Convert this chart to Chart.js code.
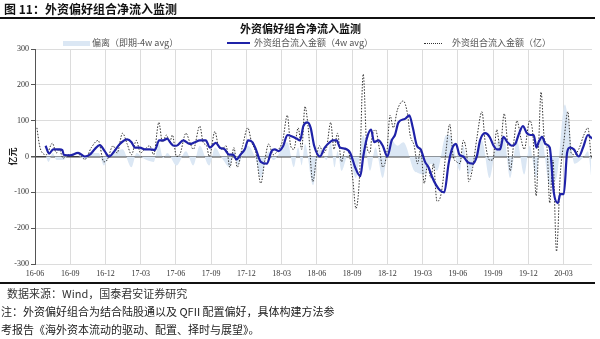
<!DOCTYPE html>
<html>
<head>
<meta charset="utf-8">
<script src="https://cdn.jsdelivr.net/npm/chart.js@4.4.0/dist/chart.umd.min.js"></script>
<style>
  body { margin: 0; width: 600px; height: 339px; background: #fff; position: relative; overflow: hidden;
         font-family: "Noto Sans CJK SC", sans-serif; color: #111; }
  .abs { position: absolute; white-space: nowrap; }
  #figTitle { left: 4px; top: 1px; font-size: 12px; font-weight: bold; line-height: 16px; }
  .rule { position: absolute; left: 0; width: 595px; height: 1.5px; background: #111; }
  #chartTitle { left: 240px; top: 20px; font-size: 11px; font-weight: bold; line-height: 16px; }
  .leg { top: 37px; font-size: 9px; line-height: 12px; color: #555; }
  .swatch { position: absolute; }
  #wrap { position: absolute; left: 0; top: 0; width: 600px; height: 339px; }
  .foot { left: 1px; font-size: 11px; line-height: 15px; color: #222; }
</style>
</head>
<body>
<div id="wrap"><canvas id="myChart" width="600" height="339"></canvas></div>

<div id="figTitle" class="abs">图 11：外资偏好组合净流入监测</div>
<div class="rule" style="top:17px"></div>
<div id="chartTitle" class="abs">外资偏好组合净流入监测</div>

<div class="swatch" style="left:63px;top:41px;width:27px;height:5px;background:#dbe7f4"></div>
<div class="abs leg" style="left:92px">偏离（即期-4w avg）</div>
<div class="swatch" style="left:227px;top:42px;width:23px;height:2px;background:#1f22a8"></div>
<div class="abs leg" style="left:254px">外资组合流入金额（4w avg）</div>
<div class="swatch" style="left:424px;top:43px;width:18px;height:0;border-top:1px dotted #333"></div>
<div class="abs leg" style="left:452px">外资组合流入金额（亿）</div>

<div class="rule" style="top:282px"></div>
<div class="abs foot" style="left:7px;top:286px;color:#333">数据来源：Wind，国泰君安证券研究</div>
<div class="abs foot" style="top:304px">注：外资偏好组合为结合陆股通以及 QFII 配置偏好，具体构建方法参</div>
<div class="abs foot" style="top:322px">考报告《海外资本流动的驱动、配置、择时与展望》。</div>

<script>
// x 轴：周序号（0 = 16-06），每 13 周一个季度刻度
const tickWeeks = [0, 13, 26, 39, 52, 65, 78, 91, 104, 117, 130, 143, 156, 169, 182, 195];
const tickLabels = ['16-06', '16-09', '16-12', '17-03', '17-06', '17-09', '17-12', '18-03',
                    '18-06', '18-09', '18-12', '19-03', '19-06', '19-09', '19-12', '20-03'];

// 外资组合流入金额（亿）— 读图取的拐点
const flowWeek = [0.7, 1.7, 2.7, 4.2, 6.4, 7.9, 8.9, 10.4, 11.8, 14, 15.3, 17.1, 18.4, 20.8, 23.3, 25.4, 26.6, 28.8, 30.3, 32.3,
  34, 35.6, 37.4, 38.9, 40.5, 42.3, 43.8, 45.7, 47, 48.5, 49.7, 50.7, 52.2, 53.4, 55.7, 57.1, 58.4, 60.8, 62, 63.3,
  64.3, 66.4, 67.6, 68.9, 70.5, 71.9, 73.4, 74.6, 76.6, 78.5, 79.9, 81.5, 83.3, 84.8, 86.2, 87.9, 89.4, 91.4, 93.1, 94.3,
  95.5, 97.1, 98.4, 99.6, 100.8, 102.5, 103.9, 104.9, 106.4, 107.6, 109.1, 110.3, 111.6, 113.1, 114.4, 115.6, 117.2, 118.4, 119.7, 121.1,
  122.4, 123.6, 124.2, 125.6, 127.1, 128.3, 129.8, 131, 132.2, 133.7, 135.9, 137.4, 138.4, 139.9, 141.1, 142.3, 143.6, 144.8, 146.1, 147,
  148.3, 149.5, 150.5, 151.7, 153, 154.3, 155.6, 156.8, 158, 159.3, 160, 161.5, 163, 164.9, 166.1, 167.7, 168.9, 170.4, 171.6, 173.1,
  174.3, 175.3, 176.8, 177.8, 179.3, 180.5, 182.5, 183.7, 184.9, 185.8, 186.7, 187.9, 188.9, 189.9, 191.1, 192.4, 193.8, 195.1, 196.6, 197.8,
  199, 200.6, 202.5, 204, 205.2];
const flowVal = [80, 30, 10, 5, 37, 10, 20, -5, 5, 3, 10, 0, -8, 25, 45, -15, -10, 30, 10, 65,
  35, 5, 45, 10, 20, 30, 5, 95, 40, 60, 40, 60, 0, 5, 65, 40, 20, 85, 40, 30,
  0, 70, 30, 20, 30, -30, 25, -30, 30, 80, 40, 10, -75, -10, 35, 5, 15, 45, 115, 30,
  20, 80, 20, 140, 80, -70, 0, 30, 10, 25, 95, 20, 65, -15, 20, 15, -60, -145, -60, 230,
  30, 10, 50, 75, 20, -30, 10, 115, 80, 130, 155, 120, 60, 30, -20, 20, -75, -25, -60, -20,
  -125, -115, -70, 20, 90, 0, -15, -20, 45, 5, -70, -30, 50, 125, 40, -10, -10, 75, 20, 120,
  40, -40, 50, 100, 50, 20, 100, 60, -110, 30, 180, 50, 25, -130, -10, -265, -50, 40, 125, 10,
  5, 20, 60, 80, -5];

// 外资组合流入金额（4w avg）
const avgWeek = [3.9, 5.2, 6.7, 9.1, 10.1, 10.6, 12.8, 15.9, 18.4, 20.2, 22, 23.9, 25.7, 27.3, 29, 31.3, 34, 35.6, 36.8, 38.7,
  40.5, 42.3, 44.2, 45.8, 47.3, 48.8, 50, 51.2, 52.2, 54.7, 57.1, 59, 60.8, 63, 64.5, 66.7, 68.2, 70, 71.6, 73.1,
  74.3, 75.8, 77.4, 78.6, 80.2, 81.5, 83.3, 85.5, 87.3, 88.5, 89.8, 91.6, 93.1, 95.1, 96.5, 97.8, 99, 100.5, 101.7, 103,
  105.1, 106.9, 108.8, 109.8, 111.3, 112.5, 114.4, 116.3, 118.1, 120, 121.1, 122.4, 124, 125.1, 126.7, 128.3, 130, 131.6, 132.8, 134.1,
  136.5, 138.1, 139.4, 140.9, 142.3, 143.9, 145.2, 146.4, 148, 149.5, 151, 152.6, 153.8, 155.3, 156.6, 158, 159.5, 161.5, 163, 164.2,
  166.1, 167.7, 169.2, 170.4, 171.6, 172.8, 174.3, 175.9, 177.2, 178.4, 180, 181.5, 182.8, 184, 185, 185.8, 187.1, 188.3, 189.9, 191.4,
  192.9, 193.8, 195.1, 196.3, 197.3, 198.8, 200.6, 202.2, 204, 205.5];
const avgVal = [30, 8, 20, 20, 18, 5, 3, 10, 0, 5, 20, 32, 15, 0, 12, 35, 48, 40, 25, 25,
  20, 20, 18, 45, 45, 50, 38, 30, 30, 45, 35, 40, 45, 45, 25, 38, 25, 20, 5, 5,
  -8, 5, 20, 45, 40, 20, -15, -20, 15, 20, 15, 30, 60, 55, 50, 45, 85, 95, 80, 30,
  0, 25, 40, 45, 45, 25, 22, 10, -30, -55, 0, 50, 75, 40, 45, 30, 0, 45, 60, 95,
  105, 115, 80, 30, 20, -15, -30, -55, -80, -95, -100, -20, 20, 35, 5, 0, -15, -20, 0, 45,
  65, 55, 30, 20, 20, 55, 40, 30, 35, 60, 85, 65, 60, 60, 25, 40, 55, 35, 25, -100,
  -130, -105, -105, 10, 25, 20, 0, 25, 60, 50];

// 偏离（即期-4w avg）
const devWeek = [4, 5, 6.5, 8, 10.5, 12, 16, 18.4, 21, 23.5, 25.4, 27, 29, 32.3, 35.6, 37.5, 40, 43.8, 45.7, 47.3,
  48.8, 52.2, 55.7, 58.4, 60.8, 64.3, 66.4, 69, 71.9, 73.4, 74.6, 78.5, 81.5, 83.3, 86.2, 87.9, 93.1, 95.5, 97.1, 98.4,
  99.6, 102.6, 104.9, 107.6, 109.1, 110.5, 111.6, 113.1, 115.6, 118.4, 121.1, 123.6, 125.6, 128.3, 131, 133.7, 135.9, 139.9, 141.1, 143.6,
  146.1, 148.3, 151.7, 153, 156.8, 158, 160, 164.9, 167.7, 170.4, 173.1, 175.3, 177.8, 180.5, 182.5, 184.9, 186.7, 189.9, 192.4, 195.5,
  196.6, 199, 202.5, 204, 205.2];
const devVal = [0, -15, 10, -10, -10, 0, 0, -8, 10, 10, -25, -5, 10, 20, -30, 10, -5, -15, 35, -5,
  10, -25, 15, -25, 30, -25, 25, -5, -30, 15, -25, 30, -10, -60, 15, -10, 40, -30, 25, -25,
  35, -80, 20, -10, 40, -30, 15, -40, 5, -60, 60, -40, 25, -60, 50, 30, 40, -40, -45, -50,
  -20, -40, 60, 60, -40, 30, -50, 45, -60, 40, 50, -60, 45, -50, 30, -60, 60, -80, -60, 145,
  110, -20, 0, 15, -55];

const pts = (xs, ys) => xs.map((x, i) => ({ x: x, y: ys[i] }));
const serif = 'Liberation Serif';
const cjk = 'Noto Sans CJK SC';

const data = {
    datasets: [
        {
            label: '外资组合流入金额（4w avg）',
            data: pts(avgWeek, avgVal),
            borderColor: '#1f22a8',
            borderWidth: 2.2,
            pointRadius: 0,
            cubicInterpolationMode: 'monotone',
            fill: false,
        },
        {
            label: '外资组合流入金额（亿）',
            data: pts(flowWeek, flowVal),
            borderColor: '#333',
            borderWidth: 1,
            borderDash: [1.5, 1.5],
            pointRadius: 0,
            cubicInterpolationMode: 'monotone',
            fill: false,
        },
        {
            label: '偏离（即期-4w avg）',
            data: pts(devWeek, devVal),
            borderWidth: 0,
            borderColor: 'rgba(0,0,0,0)',
            backgroundColor: '#dbe7f4',
            pointRadius: 0,
            cubicInterpolationMode: 'monotone',
            fill: 'origin',
        },
    ]
}

const config = {
    type: 'line',
    data,
    options: {
        responsive: false,
        animation: false,
        devicePixelRatio: 1,
        layout: { padding: { left: 0, right: 8, top: 49, bottom: 55 } },
        plugins: {
            legend: { display: false },
            tooltip: { enabled: false },
            title: { display: false },
        },
        scales: {
            x: {
                type: 'linear',
                min: 0,
                max: 205.5,
                afterBuildTicks: scale => { scale.ticks = tickWeeks.map(v => ({ value: v })); },
                afterFit: scale => { scale.height = 20; },
                ticks: {
                    autoSkip: false,
                    maxRotation: 0,
                    padding: 5,
                    color: '#333',
                    font: { family: serif, size: 8 },
                    callback: v => tickLabels[tickWeeks.indexOf(v)],
                },
                grid: { color: '#dcdcdc', drawTicks: false },
                border: { display: false },
            },
            y: {
                min: -300,
                max: 300,
                afterFit: scale => { scale.width = 35; },
                ticks: {
                    stepSize: 100,
                    padding: 2,
                    color: '#333',
                    font: { family: serif, size: 8 },
                },
                grid: {
                    color: c => c.tick && c.tick.value === 0 ? '#404040' : '#dcdcdc',
                    lineWidth: c => c.tick && c.tick.value === 0 ? 1.5 : 1,
                    tickColor: '#555',
                    tickLength: 4,
                },
                border: { color: '#555', width: 1 },
                title: {
                    display: true,
                    text: '亿元',
                    color: '#222',
                    font: { family: cjk, size: 9, weight: 'bold' },
                    padding: { top: 7, bottom: 0 },
                },
            },
        },
    },
}

const ctx = document.getElementById('myChart')
const myChart = new Chart(ctx, config)
</script>
</body>
</html>
